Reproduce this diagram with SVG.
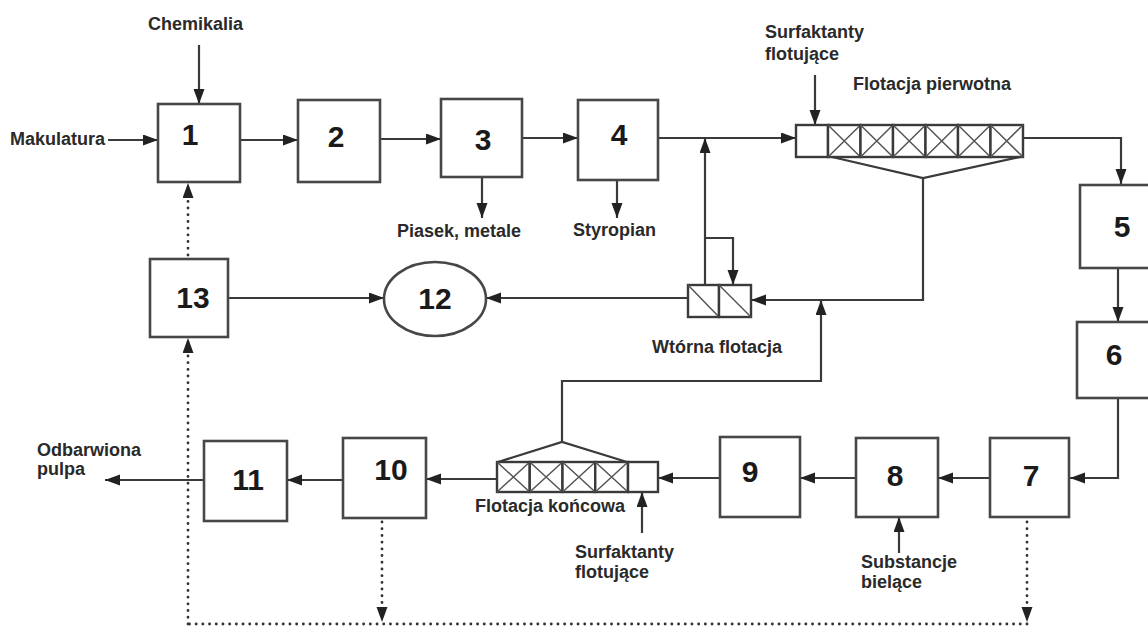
<svg xmlns="http://www.w3.org/2000/svg" width="1148" height="627" viewBox="0 0 1148 627">
<defs>
<marker id="ah" markerUnits="userSpaceOnUse" markerWidth="16" markerHeight="12" refX="15" refY="5.5" orient="auto">
<path d="M0,0 L15,5.5 L0,11 z" fill="#222"/>
</marker>
<style>
.box{fill:#fff;stroke:#474747;stroke-width:2.6}
.cell{fill:#fff;stroke:#3a3a3a;stroke-width:2.4}
.x{stroke:#555;stroke-width:1.5;fill:none}
.ln{stroke:#3a3a3a;stroke-width:2.2;fill:none}
.arr{stroke:#3a3a3a;stroke-width:2.2;fill:none;marker-end:url(#ah)}
.dot{stroke:#333;stroke-width:2.8;fill:none;stroke-dasharray:0.1 6.6;stroke-linecap:round}
.dotarr{stroke:#333;stroke-width:2.8;fill:none;stroke-dasharray:0.1 6.6;stroke-linecap:round;marker-end:url(#ah)}
.num{font-family:"Liberation Sans",Arial,sans-serif;font-weight:bold;font-size:30px;fill:#1a1a1a;text-anchor:middle}
.lbl{font-family:"Liberation Sans",Arial,sans-serif;font-weight:bold;font-size:18px;fill:#2a2a2a}
</style>
</defs>
<rect width="1148" height="627" fill="#fff"/>

<g id="connectors">
<!-- inputs -->
<line class="arr" x1="199" y1="45" x2="199" y2="104"/>
<line class="arr" x1="108" y1="140" x2="158" y2="140"/>
<!-- main line top -->
<line class="arr" x1="240" y1="140" x2="298" y2="140"/>
<line class="arr" x1="380" y1="139" x2="441" y2="139"/>
<line class="arr" x1="522" y1="138" x2="578" y2="138"/>
<line class="arr" x1="658" y1="138" x2="796" y2="138"/>
<line class="arr" x1="482" y1="177" x2="482" y2="218"/>
<line class="arr" x1="617" y1="180" x2="617" y2="218"/>
<line class="arr" x1="815" y1="75" x2="815" y2="125"/>
<!-- primary flotation out to 5 -->
<polyline class="arr" points="1023,138 1121,138 1121,184"/>
<line class="arr" x1="1118" y1="268" x2="1118" y2="322"/>
<polyline class="arr" points="1118,398 1118,478 1070,478"/>
<line class="arr" x1="990" y1="478" x2="938" y2="478"/>
<line class="arr" x1="899" y1="553" x2="899" y2="517"/>
<line class="arr" x1="856" y1="478" x2="800" y2="478"/>
<line class="arr" x1="720" y1="478" x2="658" y2="478"/>
<line class="arr" x1="642" y1="533" x2="642" y2="492"/>
<line class="arr" x1="497" y1="479" x2="426" y2="479"/>
<line class="arr" x1="343" y1="480" x2="287" y2="480"/>
<line class="arr" x1="204" y1="480" x2="105" y2="480"/>
<!-- primary flotation reject -->
<polyline class="ln" points="832,157 923,178 1020,157"/>
<polyline class="arr" points="923,178 923,300 751,300"/>
<!-- final flotation reject -->
<polyline class="ln" points="498,462 562,442 627,462"/>
<polyline class="arr" points="562,442 562,381 821,381 821,300"/>
<!-- secondary flotation -->
<line class="arr" x1="705" y1="285" x2="705" y2="138"/>
<polyline class="arr" points="705,238 733,238 733,285"/>
<line class="arr" x1="688" y1="298" x2="486" y2="298"/>
<line class="arr" x1="228" y1="298" x2="384" y2="298"/>
<!-- dotted -->
<line class="dotarr" x1="382" y1="522" x2="382" y2="622"/>
<line class="dotarr" x1="1027" y1="522" x2="1027" y2="622"/>
<line class="dot" x1="1027" y1="624" x2="188" y2="624"/>
<line class="dotarr" x1="188" y1="624" x2="188" y2="338"/>
<line class="dotarr" x1="188" y1="255" x2="188" y2="183"/>
</g>

<g id="n1"><rect class="box" x="158" y="104" width="82" height="78"/><text class="num" x="190" y="145">1</text></g>
<g id="n2"><rect class="box" x="298" y="100" width="82" height="82"/><text class="num" x="336" y="147">2</text></g>
<g id="n3"><rect class="box" x="441" y="99" width="81" height="78"/><text class="num" x="483" y="150">3</text></g>
<g id="n4"><rect class="box" x="578" y="100" width="80" height="80"/><text class="num" x="619" y="145">4</text></g>
<g id="n5"><rect class="box" x="1080" y="185" width="80" height="83"/><text class="num" x="1122" y="237">5</text></g>
<g id="n6"><rect class="box" x="1077" y="322" width="83" height="76"/><text class="num" x="1114" y="365">6</text></g>
<g id="n7"><rect class="box" x="990" y="438" width="79" height="79"/><text class="num" x="1031" y="486">7</text></g>
<g id="n8"><rect class="box" x="856" y="438" width="82" height="79"/><text class="num" x="895" y="486">8</text></g>
<g id="n9"><rect class="box" x="720" y="437" width="80" height="80"/><text class="num" x="750" y="482">9</text></g>
<g id="n10"><rect class="box" x="343" y="438" width="83" height="80"/><text class="num" x="391" y="480">10</text></g>
<g id="n11"><rect class="box" x="204" y="441" width="83" height="80"/><text class="num" x="248" y="490">11</text></g>
<g id="n12"><ellipse class="box" cx="435" cy="299" rx="51" ry="37"/><text class="num" x="435" y="309">12</text></g>
<g id="n13"><rect class="box" x="150" y="259" width="78" height="78"/><text class="num" x="193" y="308">13</text></g>

<g id="flotacja-pierwotna">
<rect class="cell" x="796" y="125" width="32" height="32"/>
<rect class="cell" x="828" y="125" width="32.5" height="32"/><path class="x" d="M828,125 L860.5,157 M860.5,125 L828,157"/>
<rect class="cell" x="860.5" y="125" width="32.5" height="32"/><path class="x" d="M860.5,125 L893,157 M893,125 L860.5,157"/>
<rect class="cell" x="893" y="125" width="32.5" height="32"/><path class="x" d="M893,125 L925.5,157 M925.5,125 L893,157"/>
<rect class="cell" x="925.5" y="125" width="32.5" height="32"/><path class="x" d="M925.5,125 L958,157 M958,125 L925.5,157"/>
<rect class="cell" x="958" y="125" width="32.5" height="32"/><path class="x" d="M958,125 L990.5,157 M990.5,125 L958,157"/>
<rect class="cell" x="990.5" y="125" width="32.5" height="32"/><path class="x" d="M990.5,125 L1023,157 M1023,125 L990.5,157"/>
<text class="lbl" x="853" y="90">Flotacja pierwotna</text>
</g>

<g id="flotacja-koncowa">
<rect class="cell" x="497" y="462" width="32.75" height="30"/><path class="x" d="M497,462 L529.75,492 M529.75,462 L497,492"/>
<rect class="cell" x="529.75" y="462" width="32.75" height="30"/><path class="x" d="M529.75,462 L562.5,492 M562.5,462 L529.75,492"/>
<rect class="cell" x="562.5" y="462" width="32.75" height="30"/><path class="x" d="M562.5,462 L595.25,492 M595.25,462 L562.5,492"/>
<rect class="cell" x="595.25" y="462" width="32.75" height="30"/><path class="x" d="M595.25,462 L628,492 M628,462 L595.25,492"/>
<rect class="cell" x="628" y="462" width="30" height="30"/>
<text class="lbl" x="475" y="512">Flotacja końcowa</text>
</g>

<g id="wtorna-flotacja">
<rect class="cell" x="688" y="285" width="31" height="32"/><path class="x" d="M688,285 L719,317"/>
<rect class="cell" x="719" y="285" width="32" height="32"/><path class="x" d="M719,285 L751,317"/>
<text class="lbl" x="652" y="353">Wtórna flotacja</text>
</g>

<g id="labels">
<text class="lbl" x="148" y="30">Chemikalia</text>
<text class="lbl" x="10" y="145">Makulatura</text>
<text class="lbl" x="397" y="237">Piasek, metale</text>
<text class="lbl" x="573" y="236">Styropian</text>
<text class="lbl" x="765" y="38">Surfaktanty</text>
<text class="lbl" x="765" y="60">flotujące</text>
<text class="lbl" x="575" y="558">Surfaktanty</text>
<text class="lbl" x="575" y="578">flotujące</text>
<text class="lbl" x="861" y="568">Substancje</text>
<text class="lbl" x="861" y="588">bielące</text>
<text class="lbl" x="37" y="456">Odbarwiona</text>
<text class="lbl" x="37" y="475">pulpa</text>
</g>
</svg>
